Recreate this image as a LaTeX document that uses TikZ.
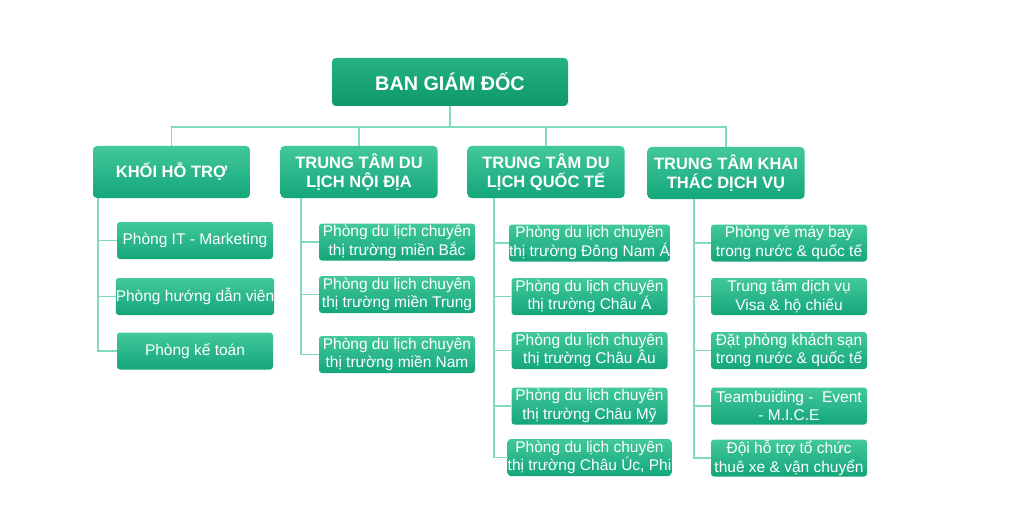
\documentclass[tikz,border=0pt]{standalone}
\usepackage{fontspec}
\setmainfont{Liberation Sans}
\usepackage{xcolor}

\definecolor{boxtop}{RGB}{66,200,156}
\definecolor{boxbot}{RGB}{20,166,122}
\definecolor{headtop}{RGB}{38,178,132}
\definecolor{headbot}{RGB}{14,152,108}
\definecolor{linkline}{RGB}{128,218,192}

\tikzset{
    headbox/.style={
        rounded corners=4pt,
        top color=headtop, bottom color=headbot,
        draw=none, text=white,
        minimum width=236pt, minimum height=48pt,
        inner sep=0pt, align=center,
        font=\fontsize{19.8}{23}\selectfont\bfseries
    },
    centerbox/.style={
        rounded corners=4pt,
        top color=boxtop, bottom color=boxbot,
        draw=none, text=white,
        minimum width=157pt, minimum height=52pt,
        inner sep=0pt, align=center,
        font=\fontsize{16.5}{19.5}\selectfont\bfseries
    },
    roombox/.style={
        rounded corners=3pt,
        top color=boxtop, bottom color=boxbot,
        draw=none, text=white,
        minimum width=156pt, minimum height=37pt,
        inner sep=0pt, align=center,
        font=\fontsize{15.5}{18.5}\selectfont
    },
    link/.style={draw=linkline, line width=1.5pt}
}

\begin{document}
\begin{tikzpicture}[x=1pt, y=-1pt]
    % canvas
    \path[fill=white] (0,0) rectangle (1024,513);

    % top
    \node[headbox] (bangiamdoc) at (450,82) {BAN GIÁM ĐỐC};

    % centres
    \node[centerbox] (khoi)   at (171.5,172) {KHỐI HỖ TRỢ};
    \node[centerbox] (noidia) at (359,172)   {TRUNG TÂM DU\\LỊCH NỘI ĐỊA};
    \node[centerbox] (quocte) at (546,172)   {TRUNG TÂM DU\\LỊCH QUỐC TẾ};
    \node[centerbox] (dichvu) at (726,173)   {TRUNG TÂM KHAI\\THÁC DỊCH VỤ};

    % rooms
    \node[roombox] (k1) at (195,240.5) {Phòng IT - Marketing};
    \node[roombox] (k2) at (195,296.5) {Phòng hướng dẫn viên};
    \node[roombox] (k3) at (195,351)   {Phòng kế toán};

    \node[roombox] (n1) at (397,242)   {Phòng du lịch chuyên\\thị trường miền Bắc};
    \node[roombox] (n2) at (397,294.5) {Phòng du lịch chuyên\\thị trường miền Trung};
    \node[roombox] (n3) at (397,354.5) {Phòng du lịch chuyên\\thị trường miền Nam};

    \node[roombox] (q1) at (589.5,243)   {Phòng du lịch chuyên\\thị trường Đông Nam Á};
    \node[roombox] (q2) at (589.5,296.5) {Phòng du lịch chuyên\\thị trường Châu Á};
    \node[roombox] (q3) at (589.5,350.5) {Phòng du lịch chuyên\\thị trường Châu Âu};
    \node[roombox] (q4) at (589.5,406)   {Phòng du lịch chuyên\\thị trường Châu Mỹ};
    \node[roombox] (q5) at (589.5,457.5) {Phòng du lịch chuyên\\thị trường Châu Úc, Phi};

    \node[roombox] (d1) at (789,243)   {Phòng vé máy bay\\trong nước \& quốc tế};
    \node[roombox] (d2) at (789,296.5) {Trung tâm dịch vụ\\Visa \& hộ chiếu};
    \node[roombox] (d3) at (789,350.5) {Đặt phòng khách sạn\\trong nước \& quốc tế};
    \node[roombox] (d4) at (789,406)   {Teambuiding -\ \ Event\\- M.I.C.E};
    \node[roombox] (d5) at (789,458)   {Đội hỗ trợ tổ chức\\thuê xe \& vận chuyển};

    % connectors
    \coordinate (bus) at (450,127);
    \draw[link] (bangiamdoc.south) -- (bus);
    \draw[link] (khoi.north) |- (bus);
    \draw[link] (noidia.north) |- (bus);
    \draw[link] (quocte.north) |- (bus);
    \draw[link] (dichvu.north) |- (bus);

    \coordinate (ktrunk) at (98,198);
    \coordinate (ntrunk) at (301,198);
    \coordinate (qtrunk) at (494,198);
    \coordinate (dtrunk) at (694,199);

    \foreach \r in {k1,k2,k3} \draw[link] (ktrunk) |- (\r.west);
    \foreach \r in {n1,n2,n3} \draw[link] (ntrunk) |- (\r.west);
    \foreach \r in {q1,q2,q3,q4,q5} \draw[link] (qtrunk) |- (\r.west);
    \foreach \r in {d1,d2,d3,d4,d5} \draw[link] (dtrunk) |- (\r.west);
\end{tikzpicture}
\end{document}
